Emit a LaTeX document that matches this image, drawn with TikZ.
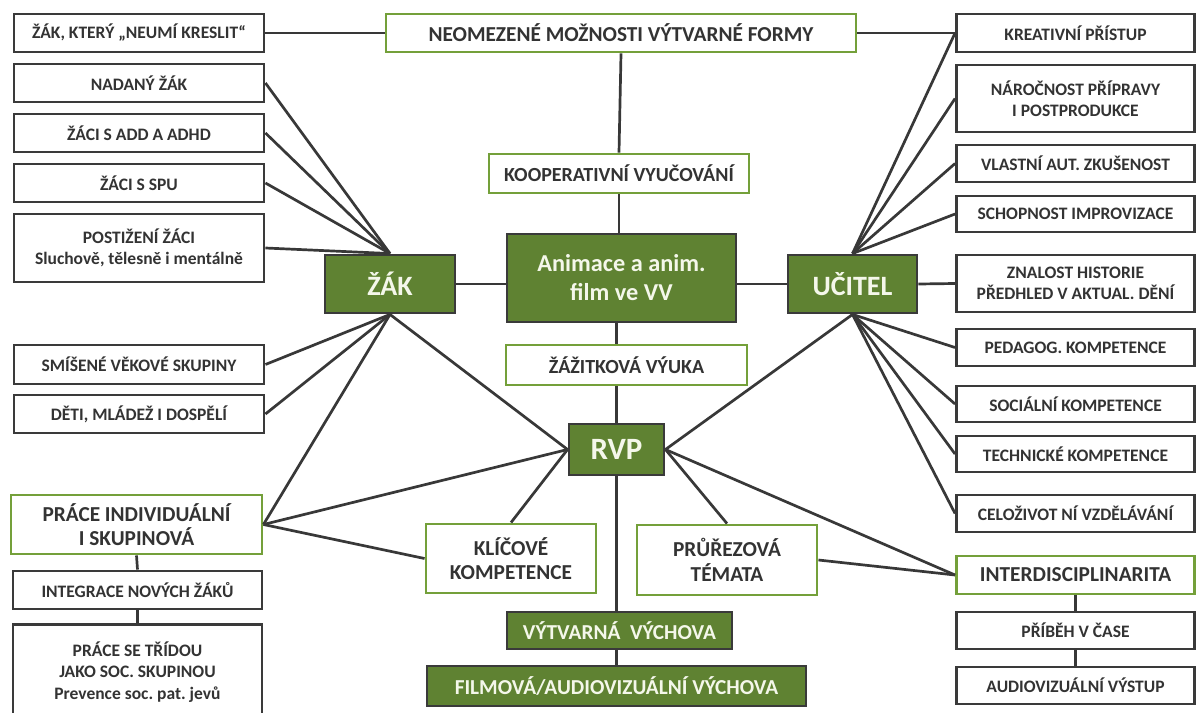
\documentclass[tikz,border=0pt]{standalone}
\usepackage{fontspec}
\setmainfont{Carlito}
\frenchspacing
\definecolor{dgreen}{HTML}{5F8232}
\definecolor{gborder}{HTML}{74A03A}
\definecolor{dborder}{HTML}{3A3A3A}
\definecolor{linec}{HTML}{383838}
\definecolor{txt}{HTML}{333333}
\definecolor{light}{HTML}{F4F7EA}
\begin{document}
\begin{tikzpicture}[x=1pt,y=-1pt,
  box/.style={draw=dborder, line width=2.9pt, fill=white, text=txt, inner sep=0pt, align=center,
    font=\bfseries\fontsize{17.5}{21.5}\selectfont},
  gbox/.style={box, draw=gborder},
  dbox/.style={box, fill=dgreen, draw=dborder, text=light},
  med/.style={font=\bfseries\fontsize{21.3}{24}\selectfont},
  big/.style={font=\bfseries\fontsize{21.3}{24.5}\selectfont},
  conn/.style={draw=linec, line width=2.7pt}]
\useasboundingbox (0,0) rectangle (1198,712);
% left column
\node[box, minimum width=250, minimum height=38] (k1) at (139,33) {ŽÁK, KTERÝ „NEUMÍ KRESLIT“};
\node[box, minimum width=250, minimum height=38] (k2) at (139,83) {NADANÝ ŽÁK};
\node[box, minimum width=250, minimum height=38] (k3) at (139,133) {ŽÁCI S ADD A ADHD};
\node[box, minimum width=250, minimum height=38] (k4) at (139,183) {ŽÁCI S SPU};
\node[box, minimum width=250, minimum height=68] (k5) at (139,248) {POSTIŽENÍ ŽÁCI\\Sluchově, tělesně i mentálně};
\node[box, minimum width=250, minimum height=39] (k6) at (139,364.5) {SMÍŠENÉ VĚKOVÉ SKUPINY};
\node[box, minimum width=250, minimum height=38] (k7) at (139,414) {DĚTI, MLÁDEŽ I DOSPĚLÍ};
\node[gbox, big, minimum width=251, minimum height=59] (k8) at (136.5,524.5) {PRÁCE INDIVIDUÁLNÍ\\I SKUPINOVÁ};
\node[box, minimum width=249, minimum height=38] (k9) at (137.5,590) {INTEGRACE NOVÝCH ŽÁKŮ};
\node[box, minimum width=249, minimum height=95] (k10) at (137.5,672) {PRÁCE SE TŘÍDOU\\JAKO SOC. SKUPINOU\\Prevence soc. pat. jevů};
% centre
\node[gbox, med, minimum width=470, minimum height=38] (neo) at (621,33) {NEOMEZENÉ MOŽNOSTI VÝTVARNÉ FORMY};
\node[gbox, font=\bfseries\fontsize{20}{24}\selectfont, minimum width=260, minimum height=39] (koop) at (619,173.5) {KOOPERATIVNÍ VYUČOVÁNÍ};
\node[dbox, font=\bfseries\fontsize{24.3}{29}\selectfont, minimum width=229, minimum height=88] (anim) at (621.5,278) {Animace a anim.\\film ve VV};
\node[dbox, font=\bfseries\fontsize{28}{30}\selectfont, minimum width=130, minimum height=58] (zak) at (390,284) {ŽÁK};
\node[dbox, font=\bfseries\fontsize{28}{30}\selectfont, minimum width=129, minimum height=58] (ucitel) at (852.5,284) {UČITEL};
\node[gbox, font=\bfseries\fontsize{20}{23}\selectfont, minimum width=241, minimum height=40] (zaz) at (626.5,365) {ŽÁŽITKOVÁ VÝUKA};
\node[dbox, font=\bfseries\fontsize{31}{33}\selectfont, minimum width=95, minimum height=51] (rvp) at (616.5,449.5) {RVP};
\node[gbox, big, minimum width=170, minimum height=69] (kk) at (511,558.5) {KLÍČOVÉ\\KOMPETENCE};
\node[gbox, big, minimum width=180, minimum height=70] (pt) at (727,560) {PRŮŘEZOVÁ\\TÉMATA};
\node[dbox, med, minimum width=225, minimum height=37] (vv) at (619.5,630.5) {VÝTVARNÁ\hspace{0.45em}VÝCHOVA};
\node[dbox, med, minimum width=379, minimum height=40] (film) at (616.5,686) {FILMOVÁ/AUDIOVIZUÁLNÍ VÝCHOVA};
% right column
\node[box, minimum width=238, minimum height=38] (r1) at (1075.5,33) {KREATIVNÍ PŘÍSTUP};
\node[box, minimum width=238, minimum height=67] (r2) at (1075.5,98.5) {NÁROČNOST PŘÍPRAVY\\I POSTPRODUKCE};
\node[box, minimum width=238, minimum height=37] (r3) at (1075.5,163.5) {VLASTNÍ AUT. ZKUŠENOST};
\node[box, minimum width=238, minimum height=36] (r4) at (1075.5,214) {SCHOPNOST IMPROVIZACE};
\node[box, minimum width=238, minimum height=57] (r5) at (1075.5,283.5) {ZNALOST HISTORIE\\PŘEDHLED V AKTUAL. DĚNÍ};
\node[box, minimum width=238, minimum height=37] (r6) at (1075.5,347.5) {PEDAGOG. KOMPETENCE};
\node[box, minimum width=238, minimum height=36] (r7) at (1075.5,404) {SOCIÁLNÍ KOMPETENCE};
\node[box, minimum width=238, minimum height=36] (r8) at (1075.5,454) {TECHNICKÉ KOMPETENCE};
\node[box, minimum width=238, minimum height=37] (r9) at (1075.5,513.5) {CELOŽIVOT NÍ VZDĚLÁVÁNÍ};
\node[gbox, big, minimum width=238, minimum height=38] (r10) at (1075.5,575) {INTERDISCIPLINARITA};
\node[box, minimum width=238, minimum height=37] (r11) at (1075.5,630.5) {PŘÍBĚH V ČASE};
\node[box, minimum width=238, minimum height=37] (r12) at (1075.5,685.5) {AUDIOVIZUÁLNÍ VÝSTUP};
% connectors
\draw[conn] (k1.east) -- (neo.west);
\draw[conn] (neo.east) -- (r1.west);
\draw[conn] (neo.south) -- (koop.north);
\draw[conn] (koop.south) -- (koop.south |- anim.north);
\draw[conn] (anim.south -| rvp.north) -- (zaz.north -| rvp.north);
\draw[conn] (zaz.south -| rvp.north) -- (rvp.north);
\draw[conn] (rvp.south) -- (rvp.south |- vv.north);
\draw[conn] (vv.south -| rvp.south) -- (film.north -| rvp.south);
\draw[conn] (zak.east) -- (zak.east -| anim.west);
\draw[conn] (anim.east |- ucitel.west) -- (ucitel.west);
\foreach \n in {k2,k3,k4,k5} \draw[conn] (\n.east) -- (zak.north);
\foreach \n in {k6,k7,k8} \draw[conn] (\n.east) -- (zak.south);
\draw[conn] (zak.south) -- (rvp.west);
\draw[conn] (k8.east) -- (rvp.west);
\draw[conn] (k8.east) -- (kk.west);
\draw[conn] (rvp.west) -- (kk.north);
\draw[conn] (rvp.east) -- (ucitel.south);
\draw[conn] (rvp.east) -- (pt.north);
\draw[conn] (rvp.east) -- (r10.west);
\draw[conn] (pt.east) -- (r10.west);
\foreach \n in {r1,r2,r3,r4} \draw[conn] (ucitel.north) -- (\n.west);
\draw[conn] (ucitel.east) -- (r5.west);
\foreach \n in {r6,r7,r8,r9} \draw[conn] (ucitel.south) -- (\n.west);
\draw[conn] (k8.south) -- (k9.north);
\draw[conn] (k9.south) -- (k10.north);
\draw[conn] (r10.south) -- (r11.north);
\draw[conn] (r11.south) -- (r12.north);
\end{tikzpicture}
\end{document}
